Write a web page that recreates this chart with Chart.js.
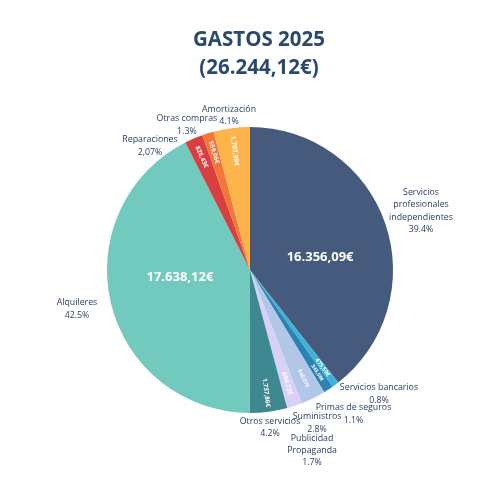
<!DOCTYPE html>
<html>
<head>
<meta charset="utf-8">
<script src="https://cdn.jsdelivr.net/npm/chart.js@4.4.1/dist/chart.umd.min.js"></script>
<style>
html,body{margin:0;padding:0;background:#ffffff;}
#wrap{width:500px;height:500px;position:relative;}
</style>
</head>
<body>
<div id="wrap"><canvas id="c" width="500" height="500"></canvas></div>
<script>
// ---- data ----
const titleLines = ['GASTOS 2025', '(26.244,12€)'];
const categories = [
  'Servicios\nprofesionales\nindependientes',
  'Servicios bancarios',
  'Primas de seguros',
  'Suministros',
  'Publicidad\nPropaganda',
  'Otros servicios',
  'Alquileres',
  'Reparaciones',
  'Otras compras',
  'Amortización'
];
const values = [39.4, 0.8, 1.1, 2.8, 1.7, 4.2, 42.5, 2.07, 1.3, 4.1];
const amountLabels = ['16.356,09€', '475,59€', '343,58€', '540,07€', '694,72€', '1.737,86€', '17.638,12€', '826,43€', '559,06€', '1.707,99€'];
const percentLabels = ['39.4%', '0.8%', '1.1%', '2.8%', '1.7%', '4.2%', '42.5%', '2,07%', '1.3%', '4.1%'];
const colors = ['#455a7d', '#3fb3d5', '#2b83b4', '#b2c7e7', '#d8d0f7', '#3d8891', '#72c9bd', '#d8403f', '#f4773a', '#fdb44b'];

// ---- label styling (positions relative to the pie, in radius units) ----
const innerStyle = [
  {h: true, dx: 0.49, dy: -0.09, size: 13},
  {r: 0.85, size: 5.6},
  {r: 0.86, size: 5.1},
  {r: 0.845, size: 5.3},
  {r: 0.835, size: 6.4},
  {r: 0.865, size: 6.4},
  {h: true, dx: -0.49, dy: 0.05, size: 13},
  {r: 0.86, size: 6.3},
  {r: 0.86, size: 6.3},
  {r: 0.84, size: 6.7}
];
const outerPos = [
  [1.196, -0.413], [0.902, 0.867], [0.724, 1.007], [0.469, 1.070], [0.434, 1.262],
  [0.140, 1.101], [-1.210, 0.273], [-0.699, -0.867], [-0.441, -1.014], [-0.147, -1.080]
];

const pieLabels = {
  id: 'pieLabels',
  beforeDraw(chart) {
    const ctx = chart.ctx;
    ctx.save();
    ctx.fillStyle = '#2b4a69';
    ctx.font = 'bold 20.5px "Open Sans"';
    ctx.textAlign = 'center';
    ctx.textBaseline = 'middle';
    titleLines.forEach((t, j) => ctx.fillText(t, 259, 40 + j * 28.5));
    ctx.restore();
  },
  afterDatasetsDraw(chart) {
    const ctx = chart.ctx;
    const meta = chart.getDatasetMeta(0);
    meta.data.forEach((arc, i) => {
      const p = arc.getProps(['x', 'y', 'startAngle', 'endAngle', 'outerRadius'], true);
      const R = p.outerRadius;
      const mid = (p.startAngle + p.endAngle) / 2;
      const st = innerStyle[i];
      ctx.save();
      ctx.fillStyle = '#ffffff';
      ctx.font = 'bold ' + st.size + 'px "Open Sans"';
      ctx.textAlign = 'center';
      ctx.textBaseline = 'middle';
      if (st.h) {
        ctx.fillText(amountLabels[i], p.x + st.dx * R, p.y + st.dy * R);
      } else {
        const px = p.x + Math.cos(mid) * R * st.r;
        const py = p.y + Math.sin(mid) * R * st.r;
        let rot = Math.atan2(Math.sin(mid), Math.cos(mid));
        if (rot > Math.PI / 2) rot -= Math.PI;
        if (rot < -Math.PI / 2) rot += Math.PI;
        ctx.translate(px, py);
        ctx.rotate(rot);
        ctx.fillText(amountLabels[i], 0, 0);
      }
      ctx.restore();

      // outside label
      const lines = categories[i].split('\n').concat([percentLabels[i]]);
      const cx = p.x + outerPos[i][0] * R;
      const cy = p.y + outerPos[i][1] * R;
      const lh = 12.2;
      ctx.save();
      ctx.fillStyle = '#2a3f5f';
      ctx.font = '8.8px "Open Sans"';
      ctx.textAlign = 'center';
      ctx.textBaseline = 'middle';
      lines.forEach((ln, j) => {
        ctx.fillText(ln, cx, cy + (j - (lines.length - 1) / 2) * lh);
      });
      ctx.restore();
    });
  }
};

new Chart(document.getElementById('c'), {
  type: 'pie',
  data: {
    labels: categories,
    datasets: [{
      data: values,
      backgroundColor: colors,
      borderWidth: 0
    }]
  },
  options: {
    responsive: false,
    animation: false,
    layout: {padding: {top: 127, bottom: 87, left: 107, right: 107}},
    plugins: {
      legend: {display: false},
      title: {display: false},
      tooltip: {enabled: false}
    }
  },
  plugins: [pieLabels]
});
</script>
</body>
</html>
